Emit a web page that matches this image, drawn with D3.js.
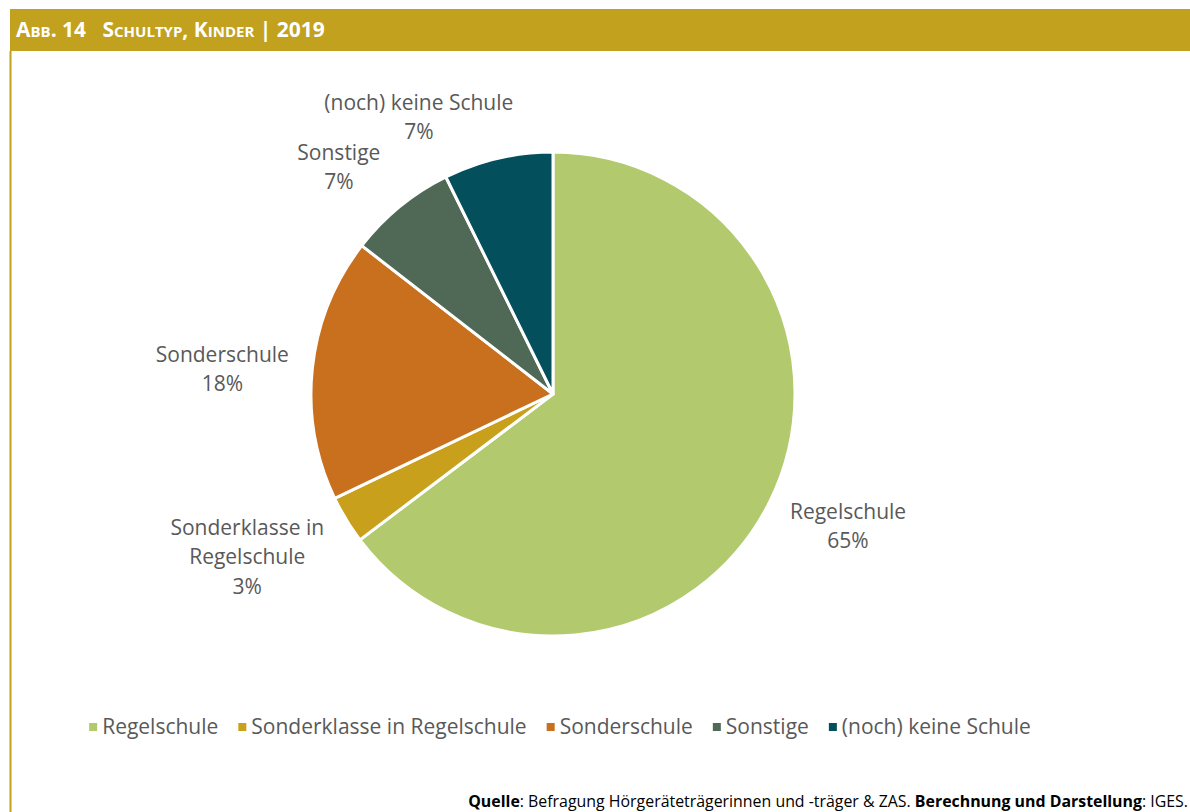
<!DOCTYPE html>
<html>
<head>
<meta charset="utf-8">
<script src="https://cdn.jsdelivr.net/npm/d3@7"></script>
<style>
  html, body { margin: 0; padding: 0; background: #fff; }
  svg { display: block; }
</style>
</head>
<body>
<svg id="chart" width="1190" height="812"></svg>
<script>
// Data
const categories = ['Regelschule', 'Sonderklasse in Regelschule', 'Sonderschule', 'Sonstige', '(noch) keine Schule'];
const values = [64.7, 3.2, 17.6, 7.2, 7.3];
const colors = ['#b2c96e', '#c9a01c', '#c8701e', '#4f6956', '#044f5c'];
// pie labels are split on several lines, like the reference
const labelLines = [['Regelschule'], ['Sonderklasse in', 'Regelschule'], ['Sonderschule'], ['Sonstige'], ['(noch) keine Schule']];

const width = 1190;
const height = 812;
const svg = d3.select('#chart');
const gold = '#c2a11e';
const textColor = '#595959';
const font = '"Open Sans", sans-serif';
const fs = 21;

// Header bar and left border
svg.append('rect')
  .attr('x', 10).attr('y', 9)
  .attr('width', width - 10).attr('height', 42)
  .attr('fill', gold);
svg.append('line')
  .attr('x1', 10.5).attr('x2', 10.5)
  .attr('y1', 51).attr('y2', height)
  .attr('stroke', gold).attr('stroke-width', 2);

svg.append('text')
  .attr('x', 16).attr('y', 37)
  .attr('fill', '#fff')
  .attr('font-family', font)
  .attr('font-weight', 700)
  .attr('font-size', 21)
  .style('font-variant', 'small-caps')
  .attr('xml:space', 'preserve')
  .text('Abb. 14   Schultyp, Kinder | 2019');

// Pie
const cx = 553, cy = 394, r = 242;
const g = svg.append('g').attr('transform', `translate(${cx},${cy})`);

const pie = d3.pie().sort(null).value(d => d);
const arcs = pie(values);
const arc = d3.arc().innerRadius(0).outerRadius(r);

g.selectAll('path.slice')
  .data(arcs)
  .join('path')
  .attr('class', 'slice')
  .attr('d', arc)
  .attr('fill', (d, i) => colors[i])
  .attr('stroke', '#fff')
  .attr('stroke-width', 3)
  .attr('stroke-linejoin', 'round');

// Outside-end labels: block edge sits just outside the rim
const lineH = 29.5;
const gap = 25;
const labelNudge = [[4, 1], [-12, 2], [1, 8], [-19, 4], [-52, 13]];

const labels = g.selectAll('g.label')
  .data(arcs)
  .join('g')
  .attr('class', 'label');

labels.each(function (d, i) {
  const lines = labelLines[i].concat([Math.round(d.data) + '%']);
  const t = d3.select(this).append('text')
    .attr('fill', textColor)
    .attr('font-family', font)
    .attr('font-size', fs)
    .attr('text-anchor', 'middle');
  lines.forEach((s, k) => {
    t.append('tspan').attr('x', 0).attr('y', k * lineH).text(s);
  });
  const w = d3.max(t.selectAll('tspan').nodes(), n => n.getComputedTextLength());
  const h = lines.length * lineH;
  const a = (d.startAngle + d.endAngle) / 2;
  const sx = Math.sin(a), sy = -Math.cos(a);
  const px = sx * (r + gap) + sx * w / 2 + labelNudge[i][0];
  const py = sy * (r + gap) + sy * h / 2 + labelNudge[i][1];
  // text block center -> first baseline
  d3.select(this).attr('transform', `translate(${px},${py - h / 2 + 21})`);
});

// Legend, centred under the plot area
const legend = svg.append('g').attr('transform', 'translate(0,727)');
const items = legend.selectAll('g.item')
  .data(categories)
  .join('g')
  .attr('class', 'item');
items.append('rect')
  .attr('y', -4).attr('width', 8).attr('height', 8)
  .attr('fill', (d, i) => colors[i]);
items.append('text')
  .attr('x', 13).attr('y', 7)
  .attr('fill', textColor)
  .attr('font-family', font)
  .attr('font-size', fs)
  .text(d => d);
const itemGap = 20;
let lx = 0;
const itemX = [];
items.each(function () {
  itemX.push(lx);
  lx += this.getBBox().width + itemGap;
});
lx -= itemGap;
const startX = 560 - lx / 2;
items.attr('transform', (d, i) => `translate(${startX + itemX[i]},0)`);

// Source line
const src = svg.append('text')
  .attr('x', 1188).attr('y', 807)
  .attr('text-anchor', 'end')
  .attr('fill', '#000')
  .attr('font-family', font)
  .attr('font-size', 15.9);
src.append('tspan').attr('font-weight', 700).text('Quelle');
src.append('tspan').text(': Befragung Hörgeräteträgerinnen und -träger & ZAS. ');
src.append('tspan').attr('font-weight', 700).text('Berechnung und Darstellung');
src.append('tspan').text(': IGES.');
</script>
</body>
</html>
